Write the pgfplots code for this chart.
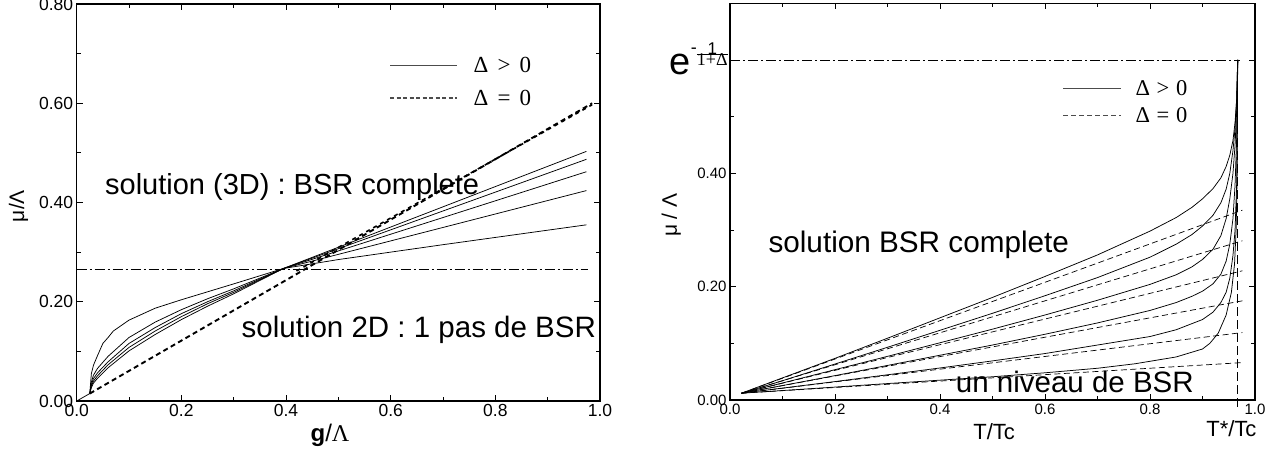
\documentclass[border=0pt]{standalone}
\usepackage{fontspec}
\setmainfont{Liberation Sans}
\newfontfamily\tms{Liberation Serif}
\usepackage{pgfplots}
\pgfplotsset{compat=1.18}
\newcommand{\fs}[1]{\fontsize{#1}{#1}\selectfont}
\begin{document}
\begin{tikzpicture}
\useasboundingbox (0pt,0pt) rectangle (1284pt,457pt);
\pgfplotsset{
  base/.style={
    scale only axis, anchor=south west, clip=false,
    axis line style={line width=1.1pt},
    tick align=inside, major tick length=6pt, minor tick length=4pt,
    every tick/.style={black, line width=0.8pt},
    /pgf/number format/assume math mode=true,
    xmin=0, xmax=1,
    xtick={0,0.2,0.4,0.6,0.8,1.0},
    minor xtick={0.1,0.3,0.5,0.7,0.9},
    xticklabel style={/pgf/number format/.cd, fixed, fixed zerofill, precision=1},
  },
  sol/.style={black, line width=0.75pt},
}
% ---------------- left panel ----------------
\begin{axis}[base, at={(76.7pt,56pt)}, width=523.3pt, height=397pt,
  ymin=0, ymax=0.8,
  ytick={0,0.2,0.4,0.6,0.8}, minor ytick={0.1,0.3,0.5,0.7},
  yticklabel style={/pgf/number format/.cd, fixed, fixed zerofill, precision=2},
  ticklabel style={font=\fs{17.5}},
]
% reference level
\addplot[black, line width=0.8pt, dash pattern=on 10pt off 3pt on 2pt off 3pt] coordinates {(0,0.2655) (0.977,0.2655)};
% Delta = 0
\addplot[black, line width=1.9pt, dash pattern=on 5pt off 3.5pt] coordinates {(0.025,0.015) (0.985,0.600)};
\addplot[black, line width=1.6pt, dash pattern=on 4pt off 4pt] coordinates {(0.42,0.262) (0.985,0.597)};
% Delta > 0
\addplot[sol] coordinates {(0,0) (0.025,0.015)};
\addplot[sol] coordinates {(0.025,0.015) (0.028,0.055) (0.032,0.072) (0.04,0.092) (0.05,0.116) (0.06,0.128) (0.07,0.141) (0.1,0.163) (0.15,0.187) (0.2,0.204) (0.25,0.220) (0.3,0.236) (0.395,0.267) (0.5,0.285) (0.7,0.315) (0.974,0.355)};
\addplot[sol] coordinates {(0.025,0.015) (0.028,0.038) (0.032,0.052) (0.04,0.066) (0.06,0.090) (0.1,0.128) (0.15,0.159) (0.2,0.184) (0.25,0.206) (0.3,0.226) (0.395,0.267) (0.5,0.2955) (0.7,0.3497) (0.974,0.424)};
\addplot[sol] coordinates {(0.025,0.015) (0.028,0.033) (0.032,0.045) (0.04,0.057) (0.06,0.079) (0.1,0.116) (0.15,0.148) (0.2,0.176) (0.25,0.200) (0.3,0.222) (0.395,0.267) (0.5,0.3024) (0.7,0.3697) (0.974,0.462)};
\addplot[sol] coordinates {(0.025,0.015) (0.028,0.030) (0.032,0.040) (0.04,0.051) (0.06,0.073) (0.1,0.108) (0.15,0.141) (0.2,0.170) (0.25,0.196) (0.3,0.219) (0.395,0.267) (0.5,0.3069) (0.7,0.3829) (0.974,0.487)};
\addplot[sol] coordinates {(0.025,0.015) (0.028,0.027) (0.032,0.036) (0.04,0.046) (0.06,0.067) (0.1,0.101) (0.15,0.134) (0.2,0.164) (0.25,0.191) (0.3,0.216) (0.395,0.267) (0.5,0.3098) (0.7,0.3913) (0.974,0.503)};
% legend
\draw[black!70, line width=0.9pt] (axis cs:0.599,0.677) -- (axis cs:0.727,0.677);
\draw[black!70, line width=1.6pt, dash pattern=on 4pt off 2.5pt] (axis cs:0.599,0.610) -- (axis cs:0.727,0.610);
\node[anchor=west, inner sep=0, font=\tms\fs{23}] at (axis cs:0.758,0.677) {Δ\hspace{0.4em}>\hspace{0.4em}0};
\node[anchor=west, inner sep=0, font=\tms\fs{23}] at (axis cs:0.758,0.610) {Δ\hspace{0.4em}=\hspace{0.4em}0};
% texts
\node[anchor=west, inner sep=0, font=\fs{29}] at (axis cs:0.054,0.432) {solution (3D) : BSR complete};
\node[anchor=west, inner sep=0, font=\fs{29.5}] at (axis cs:0.315,0.143) {solution 2D : 1 pas de BSR};
\node[rotate=90, font=\fs{21}] at (rel axis cs:-0.111,0.491) {μ/Λ};
\node[font=\fs{24}] at (rel axis cs:0.484,-0.086) {\textbf{g}/{\tms Λ}};
\end{axis}
% ---------------- right panel ----------------
\begin{axis}[base, at={(730pt,57pt)}, width=525pt, height=396.7pt,
  ymin=0, ymax=0.7,
  ytick={0,0.2,0.4,0.6}, minor ytick={0.1,0.3,0.5},
  yticklabels={0.00,0.20,0.40,{}},
  ticklabel style={font=\fs{15}},
]
\addplot[black, line width=0.8pt, dash pattern=on 10pt off 3pt on 2pt off 3pt] coordinates {(0,0.6) (0.972,0.6)};
\addplot[black, line width=1pt, dash pattern=on 9pt off 4pt] coordinates {(0.967,-0.012) (0.967,0.6)};
% Delta = 0
\addplot[black, line width=0.7pt, dash pattern=on 6pt off 3.5pt] coordinates {(0.022,0.012) (0.976,0.066)};
\addplot[black, line width=0.7pt, dash pattern=on 6pt off 3.5pt] coordinates {(0.022,0.012) (0.976,0.119)};
\addplot[black, line width=0.7pt, dash pattern=on 6pt off 3.5pt] coordinates {(0.022,0.012) (0.976,0.175)};
\addplot[black, line width=0.7pt, dash pattern=on 6pt off 3.5pt] coordinates {(0.022,0.012) (0.976,0.228)};
\addplot[black, line width=0.7pt, dash pattern=on 6pt off 3.5pt] coordinates {(0.022,0.012) (0.976,0.281)};
\addplot[black, line width=0.7pt, dash pattern=on 6pt off 3.5pt] coordinates {(0.022,0.012) (0.976,0.335)};
% Delta > 0
\addplot[sol] coordinates {(0.022,0.012) (0.1,0.0167) (0.2,0.0228) (0.3,0.029) (0.4,0.035) (0.5,0.041) (0.6,0.048) (0.7,0.056) (0.772,0.064) (0.85,0.076) (0.9,0.090) (0.914,0.100) (0.93,0.118) (0.945,0.150) (0.955,0.190) (0.961,0.240) (0.964,0.300) (0.966,0.400) (0.967,0.600)};
\addplot[sol] coordinates {(0.022,0.012) (0.1,0.021) (0.2,0.0325) (0.3,0.0445) (0.4,0.0565) (0.5,0.069) (0.6,0.082) (0.7,0.097) (0.8,0.112) (0.85,0.124) (0.9,0.142) (0.92,0.155) (0.935,0.172) (0.945,0.190) (0.952,0.215) (0.958,0.255) (0.962,0.300) (0.965,0.380) (0.967,0.600)};
\addplot[sol] coordinates {(0.022,0.012) (0.1,0.0255) (0.2,0.043) (0.3,0.061) (0.4,0.079) (0.5,0.097) (0.6,0.116) (0.7,0.136) (0.8,0.158) (0.85,0.172) (0.88,0.183) (0.9,0.192) (0.92,0.205) (0.935,0.222) (0.945,0.245) (0.952,0.275) (0.958,0.320) (0.962,0.380) (0.965,0.460) (0.967,0.600)};
\addplot[sol] coordinates {(0.022,0.012) (0.1,0.030) (0.2,0.0535) (0.3,0.077) (0.4,0.101) (0.5,0.125) (0.6,0.150) (0.7,0.176) (0.8,0.204) (0.85,0.221) (0.88,0.235) (0.9,0.248) (0.92,0.266) (0.935,0.290) (0.945,0.320) (0.952,0.355) (0.958,0.400) (0.962,0.450) (0.965,0.510) (0.967,0.600)};
\addplot[sol] coordinates {(0.022,0.012) (0.1,0.034) (0.2,0.0635) (0.3,0.093) (0.4,0.123) (0.5,0.153) (0.6,0.184) (0.7,0.216) (0.8,0.252) (0.85,0.275) (0.88,0.292) (0.9,0.307) (0.92,0.326) (0.935,0.348) (0.945,0.372) (0.952,0.400) (0.958,0.440) (0.962,0.480) (0.965,0.530) (0.967,0.600)};
\addplot[sol] coordinates {(0.022,0.012) (0.1,0.039) (0.2,0.0735) (0.3,0.109) (0.4,0.145) (0.5,0.181) (0.6,0.218) (0.7,0.256) (0.8,0.298) (0.85,0.322) (0.88,0.340) (0.9,0.355) (0.92,0.373) (0.935,0.392) (0.945,0.412) (0.952,0.432) (0.958,0.458) (0.962,0.490) (0.965,0.530) (0.967,0.600)};
% level label
\node[anchor=base east, inner sep=0] at (axis cs:-0.004,0.5735) {{\fs{38}e}\raisebox{21pt}{\fs{18}-}\raisebox{9pt}{\begin{tabular}[b]{@{}c@{}}\fs{17}1\\[-4pt]\hline\rule{0pt}{11pt}\tms\fs{18}1+Δ\end{tabular}}};
% legend
\draw[black!70, line width=0.9pt] (axis cs:0.635,0.55) -- (axis cs:0.745,0.55);
\draw[black!70, line width=0.8pt, dash pattern=on 5pt off 3pt] (axis cs:0.635,0.503) -- (axis cs:0.745,0.503);
\node[anchor=west, inner sep=0, font=\tms\fs{22.5}] at (axis cs:0.772,0.55) {Δ\hspace{0.3em}>\hspace{0.3em}0};
\node[anchor=west, inner sep=0, font=\tms\fs{22.5}] at (axis cs:0.772,0.503) {Δ\hspace{0.3em}=\hspace{0.3em}0};
% texts
\node[anchor=west, inner sep=0, font=\fs{29.7}] at (axis cs:0.073,0.2735) {solution BSR complete};
\node[anchor=west, inner sep=0, font=\fs{29.5}] at (axis cs:0.43,0.032) {un niveau de BSR};
\node[rotate=90, font=\fs{21}] at (rel axis cs:-0.112,0.466) {μ / Λ};
\node[font=\fs{22}] at (rel axis cs:0.503,-0.08) {T/Tc};
\node[font=\fs{22}] at (rel axis cs:0.955,-0.071) {T*/Tc};
\end{axis}
\end{tikzpicture}
\end{document}
